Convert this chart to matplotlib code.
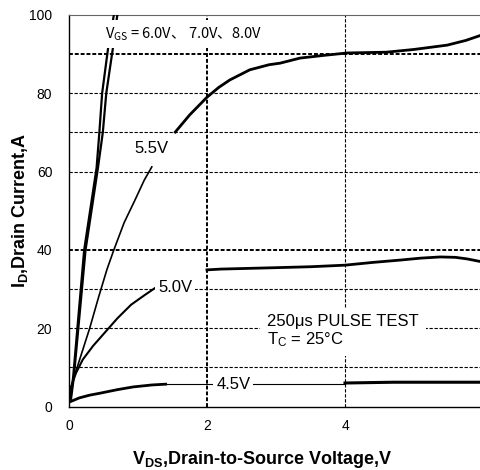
import numpy as np
import matplotlib
matplotlib.use("Agg")
from matplotlib import pyplot as plt

plt.rcParams['font.family'] = ['Liberation Sans', 'DejaVu Sans']

# VGS = 6.0/7.0/8.0V : the two edges of the narrow outline, shared y
vhi_y = [2, 7.5, 40, 61, 70, 80, 92, 100]
vhi6_x = [0.02, 0.06, 0.22, 0.40, 0.44, 0.48, 0.57, 0.65]
vhi8_x = [0.03, 0.07, 0.24, 0.42, 0.49, 0.54, 0.64, 0.70]

# 5.5V
v55_lo_x = [0.0, 0.03, 0.1, 0.2, 0.3, 0.43, 0.55, 0.65, 0.8, 0.95, 1.09, 1.2]
v55_lo_y = [2, 5, 9, 14.5, 20, 28, 35, 40, 47, 52.5, 57.8, 61.2]
v55_hi_x = [1.54, 1.75, 2.0, 2.17, 2.33, 2.62, 2.9, 3.06, 3.35, 3.7, 4.03,
            4.6, 5.0, 5.48, 5.75, 6.0]
v55_hi_y = [70.1, 74.5, 79, 81.5, 83.4, 86, 87.3, 87.7, 89, 89.7, 90.3,
            90.5, 91.2, 92.3, 93.5, 95]

# 5.0V
v50_lo_x = [0.0, 0.03, 0.1, 0.2, 0.35, 0.5, 0.7, 0.9, 1.1, 1.25]
v50_lo_y = [2, 5, 8.5, 12, 15.5, 18.5, 22.5, 26, 28.5, 30.3]
v50_hi_x = [2.0, 2.2, 2.87, 3.5, 4.0, 4.4, 4.8, 5.1, 5.38, 5.6, 5.77, 6.0]
v50_hi_y = [34.9, 35.1, 35.4, 35.7, 36.1, 36.8, 37.4, 37.9, 38.2, 38.1, 37.7, 36.9]

# 4.5V
v45_lo_x = [0.0, 0.15, 0.3, 0.45, 0.7, 0.93, 1.2, 1.4]
v45_lo_y = [1.1, 2.2, 2.9, 3.4, 4.3, 5.0, 5.5, 5.7]
v45_mid_x = [1.4, 4.0]
v45_mid_y = [5.7, 5.7]
v45_hi_x = [4.0, 4.7, 6.0]
v45_hi_y = [6.0, 6.2, 6.2]

grid_y = [10, 20, 30, 60, 70, 80]
grid_y_heavy = [40, 90]
grid_x = [4]
grid_x_heavy = [2]

fig = plt.figure(figsize=(4.8, 4.7), dpi=100)
ax = fig.add_axes([69 / 480, 63.5 / 470, 414 / 480, 391.5 / 470])

for g in grid_y:
    ax.axhline(g, color='black', lw=0.8, ls=(0, (3, 1.5)), zorder=1)
for g in grid_y_heavy:
    ax.axhline(g, color='black', lw=1.4, ls=(0, (2, 1)), zorder=1)
for g in grid_x:
    ax.axvline(g, color='black', lw=0.8, ls=(0, (3, 1.5)), zorder=1)
for g in grid_x_heavy:
    ax.axvline(g, color='black', lw=1.4, ls=(0, (2, 1)), zorder=1)

k = 'black'
ax.plot(vhi6_x, vhi_y, color=k, lw=1.6, zorder=3)
ax.plot(vhi8_x, vhi_y, color=k, lw=1.6, zorder=3)
ax.plot(v55_lo_x, v55_lo_y, color=k, lw=1.2, zorder=3)
ax.plot(v55_hi_x, v55_hi_y, color=k, lw=2.0, zorder=3)
ax.plot(v50_lo_x, v50_lo_y, color=k, lw=1.5, zorder=3)
ax.plot(v50_hi_x, v50_hi_y, color=k, lw=2.0, zorder=3)
ax.plot(v45_lo_x, v45_lo_y, color=k, lw=2.0, zorder=3)
ax.plot(v45_mid_x, v45_mid_y, color=k, lw=0.8, zorder=3)
ax.plot(v45_hi_x, v45_hi_y, color=k, lw=2.2, zorder=3)

wbox = dict(facecolor='white', edgecolor='none', pad=2)
ax.text(0.52, 95.1, r'$\mathregular{V_{GS}}$ = 6.0V、 7.0V、8.0V',
        family='Noto Sans CJK SC', fontsize=10.5, va='center', ha='left',
        bbox=dict(facecolor='white', edgecolor='none', pad=4), zorder=5)
ax.text(1.2, 66, '5.5V', fontsize=12, ha='center', va='center', bbox=wbox, zorder=5)
ax.text(1.54, 30.3, '5.0V', fontsize=12, ha='center', va='center', bbox=wbox, zorder=5)
ax.text(2.38, 5.7, '4.5V', fontsize=12, ha='center', va='center', bbox=wbox, zorder=5)
ax.text(2.87, 19.2, '250\u03bcs PULSE TEST\n' + r'$\mathregular{T_C}$ = 25°C',
        fontsize=12, ha='left', va='center', linespacing=1.1,
        bbox=dict(facecolor='white', edgecolor='none', pad=5), zorder=5)

ax.set_xlim(0, 6)
ax.set_ylim(0, 100)
ax.set_xticks([0, 2, 4, 6])
ax.set_yticks([0, 20, 40, 60, 80, 100])
ax.tick_params(length=0, labelsize=10)
ax.tick_params(axis='y', pad=12)
ax.tick_params(axis='x', pad=9)
for s in ['left', 'bottom']:
    ax.spines[s].set_linewidth(1.0)
ax.spines['top'].set_color('#666666')
ax.spines['right'].set_visible(False)

fig.text(262 / 480, 11 / 470, r'$\mathregular{V_{DS}}$,Drain-to-Source Voltage,V',
         fontsize=13, fontweight='bold', ha='center', va='center')
fig.text(20 / 480, (470 - 210) / 470, r'$\mathregular{I_D}$,Drain Current,A',
         fontsize=13, fontweight='bold', ha='center', va='center', rotation=90)

plt.savefig('out.png', dpi=100)
plt.close()
